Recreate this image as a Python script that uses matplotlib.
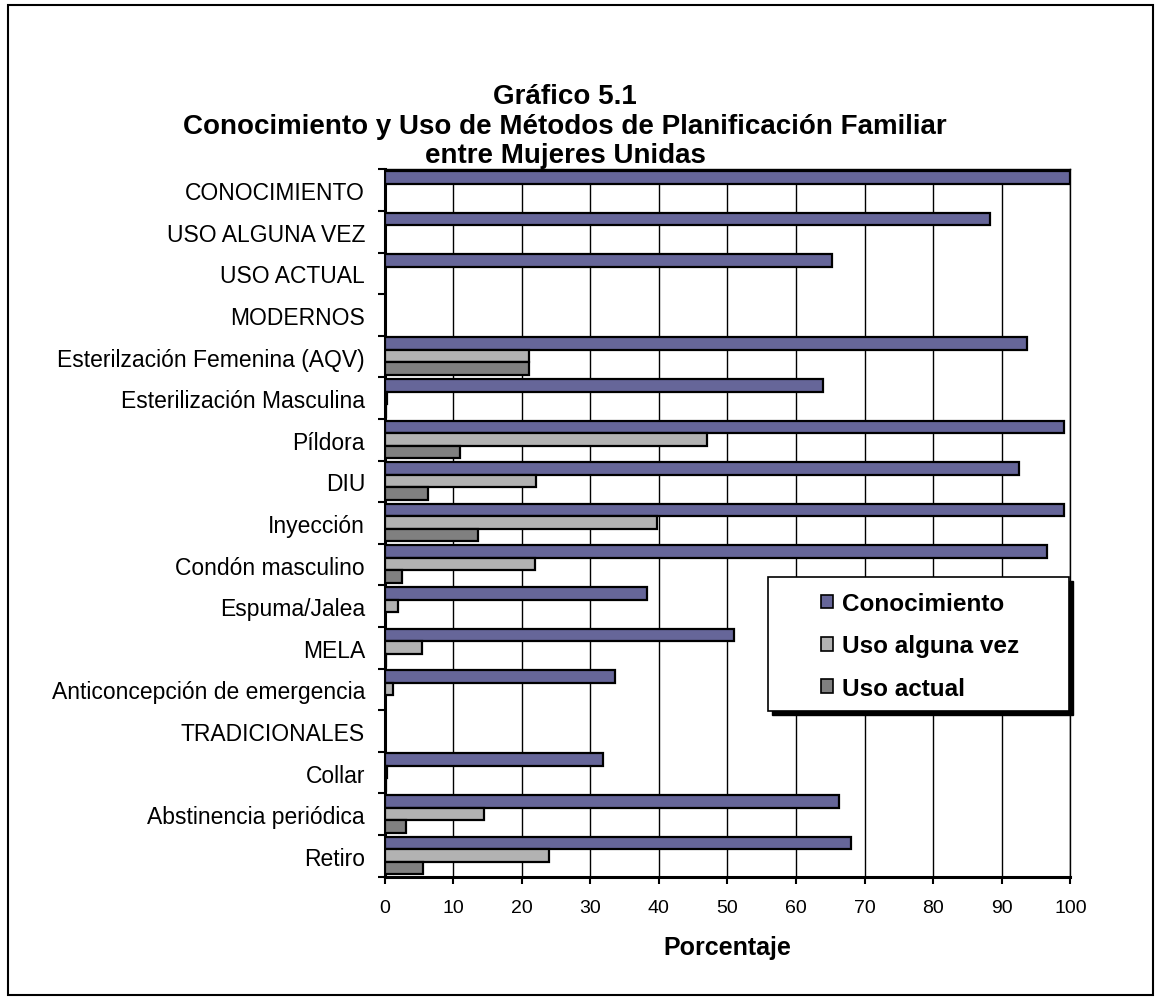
import matplotlib
matplotlib.use("Agg")
import matplotlib.pyplot as plt
import numpy as np
from matplotlib.patches import Rectangle, Patch

plt.rcParams["font.family"] = ["Liberation Sans", "DejaVu Sans"]

# Data (percent)
categories = [
    "CONOCIMIENTO", "USO ALGUNA VEZ", "USO ACTUAL", "MODERNOS",
    "Esterilzación Femenina (AQV)", "Esterilización Masculina", "Píldora", "DIU",
    "Inyección", "Condón masculino", "Espuma/Jalea", "MELA",
    "Anticoncepción de emergencia", "TRADICIONALES", "Collar",
    "Abstinencia periódica", "Retiro",
]
nan = np.nan
conocimiento = [99.9, 88.2, 65.3, nan, 93.7, 63.9, 99.0, 92.5,
                99.0, 96.6, 38.2, 51.0, 33.6, nan, 31.8, 66.2, 68.0]
uso_alguna_vez = [nan, nan, nan, nan, 21.1, 0.4, 47.0, 22.1,
                  39.7, 21.9, 2.0, 5.5, 1.3, nan, 0.3, 14.5, 24.0]
uso_actual = [nan, nan, nan, nan, 21.0, 0.2, 11.0, 6.4,
              13.7, 2.6, 0.0, 0.2, 0.0, nan, 0.2, 3.1, 5.6]
series_names = ["Conocimiento", "Uso alguna vez", "Uso actual"]
colors = ["#666699", "#B2B2B2", "#808080"]
x_ticks = list(range(0, 101, 10))

W, H = 1161, 1003
fig = plt.figure(figsize=(W / 100, H / 100), dpi=100)

# axes placed in pixel terms of the reference
left, right, top, bottom = 384.5, 1070.5, 170.4, 877.6
ax = fig.add_axes([left / W, 1 - bottom / H, (right - left) / W, (bottom - top) / H])

n = len(categories)
pos = np.arange(n)
h = 0.3
offset = 0.04
for k, (vals, col) in enumerate(zip([conocimiento, uso_alguna_vez, uso_actual], colors)):
    ax.barh(pos + offset + h * k + h / 2, vals, height=h, color=col,
            edgecolor="black", linewidth=1.6, zorder=3)

ax.set_xlim(0, 100)
ax.set_ylim(n, 0)
ax.set_xticks(x_ticks)
ax.set_xticklabels([str(t) for t in x_ticks], fontsize=14)
ax.set_yticks(pos + 0.5)
ax.set_yticklabels(categories, fontsize=16.5)
ax.set_yticks(np.arange(n + 1), minor=True)
ax.tick_params(axis="y", which="major", length=0, pad=14)
ax.tick_params(axis="y", which="minor", length=5, width=1.5, direction="out")
ax.tick_params(axis="x", length=5, width=1.5, direction="out", pad=11)

ax.grid(axis="x", color="black", linewidth=1.0, zorder=0)
ax.set_axisbelow(True)
for side in ["left", "bottom"]:
    ax.spines[side].set_linewidth(2.2)
for side in ["top", "right"]:
    ax.spines[side].set_linewidth(1.0)

# titles
title_lines = ["Gráfico 5.1",
               "Conocimiento y Uso de Métodos de Planificación Familiar",
               "entre Mujeres Unidas"]
for i, line in enumerate(title_lines):
    fig.text(565 / W, 1 - (97 + 29.5 * i) / H, line, ha="center", va="center",
             fontsize=20, fontweight="bold")
fig.text((left + right) / 2 / W, 1 - 948 / H, "Porcentaje", ha="center", va="center",
         fontsize=18, fontweight="bold")

# legend box with black drop shadow
bx0, bx1, by0, by1 = 768, 1069, 578, 712
fig.patches.append(Rectangle(((bx0 + 4) / W, 1 - (by1 + 4) / H), (bx1 - bx0) / W,
                             (by1 - by0) / H, transform=fig.transFigure,
                             facecolor="black", edgecolor="black", zorder=1))
fig.patches.append(Rectangle((bx0 / W, 1 - by1 / H), (bx1 - bx0) / W, (by1 - by0) / H,
                             transform=fig.transFigure, facecolor="white",
                             edgecolor="black", linewidth=1.2, zorder=1.5))
handles = [Patch(facecolor=c, edgecolor="black", linewidth=1.2) for c in colors]
fig.legend(handles, series_names, loc="center", bbox_to_anchor=(920 / W, 1 - 647 / H),
           frameon=False, prop={"weight": "bold", "size": 17.5},
           handlelength=0.5, handleheight=0.5, handletextpad=0.4,
           labelspacing=0.8)

# outer frame
fig.patches.append(Rectangle((8 / W, 1 - 996 / H), (1153 - 8) / W, (996 - 6) / H,
                             transform=fig.transFigure, fill=False,
                             edgecolor="black", linewidth=1.5, zorder=0))

fig.savefig("out.png", dpi=100)
